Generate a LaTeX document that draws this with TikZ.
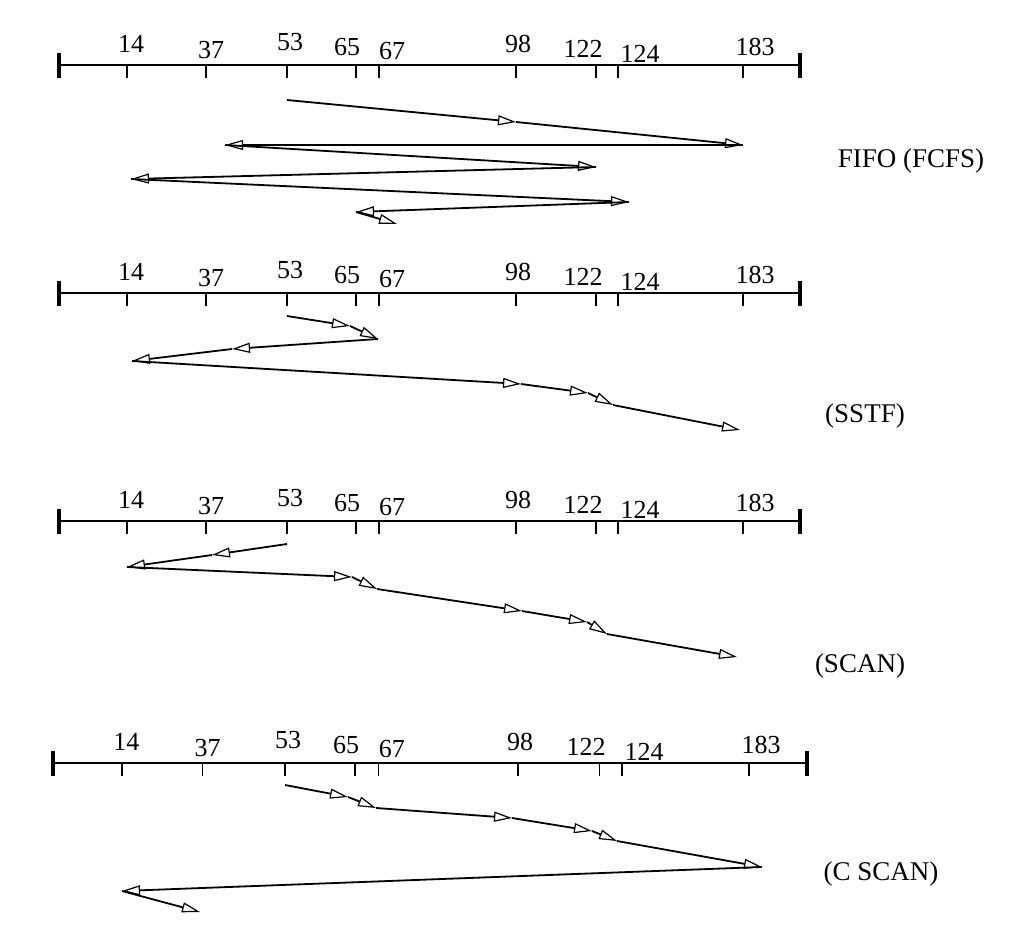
\documentclass[tikz,border=0pt]{standalone}
\usepackage{fontspec}
\setmainfont{Liberation Serif}
\usetikzlibrary{arrows.meta}

\begin{document}
\begin{tikzpicture}[x=1pt,y=-1pt,
    axis/.style={line width=1.6pt},
    endbar/.style={line width=3.2pt},
    cyl/.style={inner sep=0pt,font=\fontsize{26}{28}\selectfont},
    algo/.style={inner sep=0pt,anchor=base,font=\fontsize{27}{30}\selectfont},
    seek/.style={line width=1.8pt,-{Triangle[open,length=18pt,width=10pt,line width=1.2pt]}}]
  \useasboundingbox (0,0) rectangle (1018,936);
  % cylinder axes, one per algorithm
  \foreach \p/\ox/\oy/\sx in {a/59/65/1,b/59/293/1,c/59/521/1,d/53/763/1.0175}{
    \begin{scope}[shift={(\ox,\oy)},xscale=\sx]
      \draw[axis] (0,0) -- (741,0);
      \draw[endbar] (0,-12) -- (0,13) (741,-12) -- (741,13);
      \foreach \t/\tx/\lx/\ly in {14/68/72/-21,37/147/152/-15,53/228/231/-23,65/297/288/-18,
          67/320/333/-14,98/457/459/-21,122/537/524/-16,124/559/581/-11,183/684/696/-18}{
        \draw[axis] (\tx,0) -- (\tx,13);
        \node[cyl] (\p-\t) at (\lx,\ly) {\t};}
    \end{scope}}
  % head movements
  \foreach \n/\x/\y in {0/287/100,1/516/122,2/743/145,3/225/145,4/596/167,5/131/179,6/629/202,7/356/212,8/397/224}
    \coordinate (fifo-\n) at (\x,\y);
  \foreach \n/\x/\y in {0/287/316,1/350/326,2/378/339,3/232/349,4/132/361,5/521/384,6/588/393,7/613/405,8/740/430}
    \coordinate (sstf-\n) at (\x,\y);
  \foreach \n/\x/\y in {0/287/544,1/212/555,2/127/567,3/352/577,4/377/589,5/522/611,6/587/622,7/607/634,8/737/657}
    \coordinate (scan-\n) at (\x,\y);
  \foreach \n/\x/\y in {0/285/785,1/348/797,2/376/808,3/512/818,4/592/831,5/617/841,6/762/867,7/122/891,8/200/912}
    \coordinate (cscan-\n) at (\x,\y);
  \foreach \s in {fifo,sstf,scan,cscan}
    \foreach \i [count=\j] in {0,...,7}
      \draw[seek] (\s-\i) -- (\s-\j);
  % algorithm names
  \node[algo] (lbl-fifo) at (911,168) {FIFO (FCFS)};
  \node[algo] (lbl-sstf) at (865,422) {(SSTF)};
  \node[algo] (lbl-scan) at (860,672) {(SCAN)};
  \node[algo] (lbl-cscan) at (881,880) {(C SCAN)};
\end{tikzpicture}
\end{document}
